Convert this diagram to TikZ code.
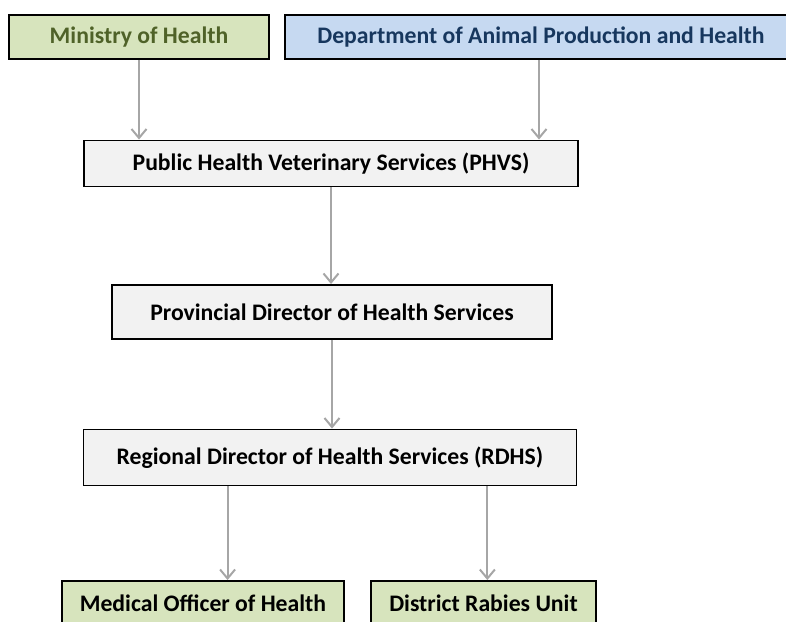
\documentclass[tikz,border=0pt]{standalone}
\usepackage{fontspec}
\setmainfont{Carlito}
\usetikzlibrary{arrows.meta,calc}
\definecolor{greenfill}{HTML}{D7E4BD}
\definecolor{greentext}{HTML}{4F6228}
\definecolor{bluefill}{HTML}{C6D9F1}
\definecolor{bluetext}{HTML}{17375E}
\definecolor{grayfill}{HTML}{F2F2F2}
\definecolor{arrowgray}{HTML}{A6A6A6}
\begin{document}
\begin{tikzpicture}[x=1pt,y=-1pt,
  box/.style={draw=black,line width=1.9pt,inner sep=0pt,align=center,
    font=\fontsize{23.7}{26}\selectfont\bfseries},
  arr/.style={draw=arrowgray,line width=2pt,-{Straight Barb[length=9pt,width=15pt,line width=2pt]}}]
\useasboundingbox (0,0) rectangle (786,621);
\node[box,fill=greenfill,text=greentext,minimum width=260pt,minimum height=44pt] (min) at (139,37) {Ministry of Health};
\node[box,fill=bluefill,text=bluetext,minimum width=512pt,minimum height=44pt] (dept) at (541,37) {Department of Animal Production and Health};
\node[box,fill=grayfill,minimum width=494pt,minimum height=46pt] (phvs) at (331,163.5) {Public Health Veterinary Services (PHVS)};
\node[box,fill=grayfill,minimum width=440pt,minimum height=54pt] (prov) at (332,312) {Provincial Director of Health Services};
\node[box,fill=grayfill,minimum width=493pt,minimum height=56pt] (rdhs) at (330,457.5) {Regional Director of Health Services (RDHS)};
\node[box,fill=greenfill,minimum width=282pt,minimum height=44pt] (moh) at (203,603) {Medical Officer of Health};
\node[box,fill=greenfill,minimum width=225pt,minimum height=44pt] (dru) at (483.5,603) {District Rabies Unit};
\coordinate (rl) at ($(rdhs.south west)!0.293!(rdhs.south east)$);
\coordinate (rr) at ($(rdhs.south west)!0.818!(rdhs.south east)$);
\draw[arr] (min.south) -- (min.south |- phvs.north);
\draw[arr] ([xshift=-2pt]dept.south) -- ([xshift=-2pt]dept.south |- phvs.north);
\draw[arr] (phvs.south) -- (phvs.south |- prov.north);
\draw[arr] (prov.south) -- (prov.south |- rdhs.north);
\draw[arr] (rl) -- (rl |- moh.north);
\draw[arr] (rr) -- (rr |- dru.north);
\end{tikzpicture}
\end{document}
